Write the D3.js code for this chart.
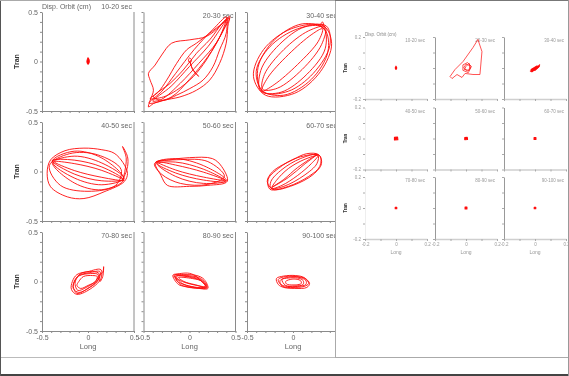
<!DOCTYPE html>
<html>
<head>
<meta charset="utf-8">
<script src="https://cdn.jsdelivr.net/npm/d3@7"></script>
<style>
    body { margin: 0; background: #fff; }
    svg { display: block; font-family: "Liberation Sans", Arial, sans-serif; will-change: transform; }
</style>
</head>
<body>
<svg id="chart" width="569" height="376"></svg>
<script>
/* Displacement orbit panels, tran vs long, 10 s windows */

const PERIODS = ['10-20 sec', '20-30 sec', '30-40 sec', '40-50 sec', '50-60 sec',
    '60-70 sec', '70-80 sec', '80-90 sec', '90-100 sec'];

const BIG_TICKS = [-0.5, -0.4, -0.3, -0.2, -0.1, 0, 0.1, 0.2, 0.3, 0.4, 0.5];
const BIG_LABEL_VALUES = [-0.5, 0, 0.5];
const BIG_LABELS = ['-0.5', '0', '0.5'];
const SMALL_TICKS = [-0.2, -0.1, 0, 0.1, 0.2];
const SMALL_LABEL_VALUES = [-0.2, 0, 0.2];
const SMALL_LABELS = ['-0.2', '0', '0.2'];

// each orbit = list of traced loops, [long, tran] in cm
const orbit10_20 = [
    [[0.0, 0.04], [0.01, 0.02], [0.012, -0.01], [0.0, -0.03], [-0.01, -0.01], [-0.008, 0.02]],
    [[0.005, 0.03], [0.012, 0.0], [0.002, -0.025], [-0.01, 0.0]]
];
const orbit20_30 = [
    [[-0.194, 0.185], [0.004, 0.219], [0.183, 0.253], [0.327, 0.354], [0.435, 0.456], [0.417, 0.354],
     [0.399, 0.185], [0.327, -0.019], [0.219, -0.188], [0.076, -0.29], [-0.104, -0.358], [-0.284, -0.392],
     [-0.392, -0.425], [-0.446, -0.459], [-0.428, -0.392], [-0.392, -0.29], [-0.428, -0.188],
     [-0.446, -0.12], [-0.374, -0.036], [-0.302, 0.066]],
    [[-0.428, -0.375], [-0.284, -0.358], [-0.14, -0.29], [0.04, -0.154], [0.183, 0.015], [0.291, 0.185],
     [0.381, 0.337], [0.435, 0.439], [0.363, 0.388], [0.219, 0.286], [0.076, 0.185], [-0.032, 0.117],
     [-0.14, -0.019], [-0.248, -0.188], [-0.338, -0.307]],
    [[-0.392, -0.358], [-0.212, -0.222], [-0.068, -0.086], [0.076, 0.083], [0.219, 0.219], [0.399, 0.422],
     [0.399, 0.286], [0.327, 0.117], [0.255, -0.053], [0.147, -0.188], [0.004, -0.273], [-0.14, -0.34],
     [-0.284, -0.392]],
    [[-0.40, -0.40], [-0.2, -0.25], [0.0, -0.05], [0.2, 0.15], [0.42, 0.44], [0.3, 0.2], [0.1, -0.02],
     [-0.1, -0.22], [-0.3, -0.38]],
    [[-0.44, -0.42], [-0.3, -0.30], [-0.15, -0.12], [0.05, 0.12], [0.25, 0.32], [0.40, 0.45], [0.33, 0.25],
     [0.2, 0.05], [0.0, -0.18], [-0.2, -0.36]],
    [[0.0, 0.035], [0.02, 0.02], [0.015, -0.005], [-0.005, -0.005], [-0.01, 0.02]],
    [[0.005, 0.0], [0.03, -0.07], [0.1, -0.15], [0.04, -0.09]]
];
const orbit30_40 = [
    [[0.33, 0.36], [0.42, 0.18], [0.3, -0.1], [0.02, -0.32], [-0.30, -0.34], [-0.43, -0.15], [-0.32, 0.12], [-0.02, 0.33]],
    [[0.34, 0.33], [0.38, 0.10], [0.2, -0.18], [-0.10, -0.34], [-0.34, -0.29], [-0.38, -0.06], [-0.2, 0.22], [0.10, 0.38]],
    [[0.36, 0.36], [0.40, 0.16], [0.22, -0.12], [-0.05, -0.30], [-0.32, -0.31], [-0.40, -0.10], [-0.25, 0.15], [0.05, 0.33]],
    [[0.33, 0.34], [0.35, 0.13], [0.15, -0.13], [-0.13, -0.31], [-0.35, -0.30], [-0.35, -0.09], [-0.15, 0.17], [0.13, 0.35]],
    [[0.35, 0.35], [0.31, 0.17], [0.1, -0.08], [-0.17, -0.27], [-0.33, -0.28], [-0.31, -0.13], [-0.1, 0.12], [0.17, 0.31]],
    [[0.32, 0.33], [0.275, 0.204], [0.05, -0.03], [-0.205, -0.234], [-0.34, -0.30], [-0.275, -0.164], [-0.05, 0.07], [0.205, 0.274]],
    [[0.30, 0.36], [0.32, 0.40], [0.34, 0.33]]
];
const orbit40_50 = [
    [[-0.407, 0.117], [-0.25, 0.21], [-0.044, 0.236], [0.15, 0.22], [0.284, 0.185], [0.38, 0.09], [0.429, -0.019],
     [0.393, -0.103], [0.175, -0.205], [-0.044, -0.273], [-0.225, -0.256], [-0.407, -0.154], [-0.444, -0.019]],
    [[0.38, -0.08], [0.43, 0.05], [0.429, 0.151], [0.375, 0.253], [0.415, 0.14], [0.40, 0.0]],
    [[-0.39, 0.10], [-0.15, 0.205], [0.15, 0.136], [0.39, -0.08], [0.15, -0.184], [-0.15, -0.115]],
    [[-0.38, 0.09], [-0.15, 0.155], [0.15, 0.086], [0.39, -0.07], [0.15, -0.134], [-0.15, -0.065]],
    [[-0.39, 0.11], [-0.15, 0.115], [0.15, 0.046], [0.38, -0.08], [0.15, -0.094], [-0.15, -0.025]],
    [[-0.37, 0.10], [-0.15, 0.08], [0.15, 0.011], [0.39, -0.09], [0.15, -0.059], [-0.15, 0.01]],
    [[-0.42, 0.06], [-0.2, 0.18], [0.1, 0.17], [0.36, 0.02], [0.3, -0.14], [0.0, -0.2], [-0.3, -0.14]]
];
const orbit50_60 = [
    [[-0.37, 0.09], [-0.2, 0.12], [0.0, 0.14], [0.25, 0.13], [0.35, 0.05], [0.41, -0.10], [0.2, -0.14],
     [0.0, -0.15], [-0.24, -0.14], [-0.31, -0.04]],
    [[-0.36, 0.09], [-0.15, 0.13], [0.15, 0.06], [0.40, -0.09], [0.15, -0.12], [-0.15, -0.05]],
    [[-0.35, 0.08], [-0.15, 0.095], [0.15, 0.024], [0.40, -0.10], [0.15, -0.086], [-0.15, -0.015]],
    [[-0.36, 0.10], [-0.15, 0.065], [0.15, -0.006], [0.39, -0.09], [0.15, -0.056], [-0.15, 0.015]],
    [[-0.38, 0.08], [-0.1, 0.12], [0.2, 0.1], [0.38, -0.05], [0.2, -0.13], [-0.1, -0.12], [-0.3, -0.03]]
];
const orbit60_70 = [
    [[0.28, 0.17], [0.31, 0.08], [0.22, -0.03], [0.0, -0.14], [-0.22, -0.18], [-0.28, -0.1], [-0.22, 0.0], [0.0, 0.12], [0.15, 0.18]],
    [[0.27, 0.17], [0.26, 0.08], [0.12, -0.04], [-0.1, -0.15], [-0.24, -0.17], [-0.24, -0.1], [-0.12, 0.02], [0.08, 0.13]],
    [[0.27, 0.16], [0.2, 0.08], [0.05, -0.04], [-0.12, -0.14], [-0.23, -0.17], [-0.18, -0.09], [-0.05, 0.03], [0.12, 0.12]],
    [[0.26, 0.17], [0.12, 0.07], [-0.05, -0.06], [-0.23, -0.16], [-0.1, -0.08], [0.05, 0.04]],
    [[0.29, 0.16], [0.29, 0.05], [0.17, -0.05], [-0.05, -0.15], [-0.25, -0.18], [-0.27, -0.08], [-0.16, 0.03], [0.05, 0.14]]
];
const orbit70_80 = [
    [[-0.17, 0.0], [-0.12, 0.07], [0.0, 0.10], [0.14, 0.12], [0.14, 0.03], [0.05, -0.06], [-0.12, -0.13], [-0.18, -0.08]],
    [[-0.15, 0.0], [-0.1, 0.06], [0.02, 0.09], [0.13, 0.10], [0.12, 0.03], [0.03, -0.05], [-0.1, -0.11], [-0.16, -0.07]],
    [[-0.1, 0.0], [-0.05, 0.05], [0.05, 0.06], [0.1, 0.05], [0.08, 0.0], [0.0, -0.04], [-0.08, -0.07], [-0.12, -0.04]],
    [[-0.14, 0.01], [-0.08, 0.08], [0.05, 0.1], [0.12, 0.08], [0.1, 0.0], [0.0, -0.07], [-0.12, -0.12], [-0.16, -0.05]],
    [[-0.13, 0.02], [-0.09, 0.06], [0.03, 0.08], [0.11, 0.07], [0.09, 0.01], [-0.02, -0.06], [-0.11, -0.09], [-0.14, -0.03]],
    [[0.12, 0.06], [0.16, 0.09], [0.17, 0.15], [0.16, 0.05], [0.13, 0.0]]
];
const orbit80_90 = [
    [[-0.18, 0.065], [-0.05, 0.07], [0.08, 0.06], [0.16, 0.02], [0.2, -0.07], [0.1, -0.07], [-0.04, -0.05], [-0.12, -0.03]],
    [[-0.16, 0.06], [-0.03, 0.06], [0.1, 0.04], [0.17, -0.01], [0.19, -0.065], [0.06, -0.06], [-0.06, -0.03], [-0.13, 0.0]],
    [[-0.14, 0.05], [0.0, 0.05], [0.12, 0.02], [0.18, -0.04], [0.15, -0.06], [0.02, -0.05], [-0.08, -0.02]],
    [[-0.17, 0.06], [-0.02, 0.085], [0.06, 0.06], [0.13, 0.0], [0.19, -0.06], [0.08, -0.04], [-0.05, -0.01], [-0.14, 0.03]],
    [[-0.12, 0.04], [0.03, 0.03], [0.14, 0.0], [0.17, -0.05], [0.05, -0.03], [-0.06, 0.0]],
    [[-0.15, 0.055], [0.02, 0.04], [0.12, 0.01], [0.18, -0.055], [0.04, -0.065], [-0.1, -0.03]]
];
const orbit90_100 = [
    [[-0.18, 0.03], [-0.1, 0.055], [0.03, 0.06], [0.12, 0.04], [0.18, -0.02], [0.15, -0.06], [0.02, -0.07], [-0.1, -0.06], [-0.16, -0.03]],
    [[-0.16, 0.02], [-0.08, 0.05], [0.04, 0.05], [0.13, 0.03], [0.17, -0.02], [0.12, -0.05], [0.0, -0.06], [-0.11, -0.05]],
    [[-0.14, 0.01], [-0.07, 0.04], [0.05, 0.045], [0.14, 0.01], [0.14, -0.03], [0.05, -0.05], [-0.06, -0.05], [-0.13, -0.03]],
    [[-0.12, 0.02], [-0.05, 0.035], [0.05, 0.035], [0.11, 0.01], [0.11, -0.03], [0.02, -0.045], [-0.08, -0.04]],
    [[-0.08, 0.0], [0.0, 0.025], [0.08, 0.01], [0.09, -0.02], [0.0, -0.035], [-0.07, -0.025]]
];
const ORBITS = [orbit10_20, orbit20_30, orbit30_40, orbit40_50, orbit50_60,
    orbit60_70, orbit70_80, orbit80_90, orbit90_100];

// second (inset) set, much smaller motion, +/-0.2 cm
const small10_20 = [[[0.0, 0.012], [0.005, 0.0], [0.0, -0.01], [-0.005, 0.0]]];
const small20_30 = [
    [[0.077, 0.184], [0.103, 0.106], [0.09, -0.042], [0.045, -0.042], [-0.006, -0.035], [-0.026, -0.061],
     [-0.058, -0.042], [-0.09, -0.068], [-0.103, -0.055], [-0.071, -0.01], [-0.019, 0.042], [0.045, 0.132]],
    [[0.0, 0.01], [0.02, 0.03], [0.03, 0.0], [0.01, -0.02], [-0.015, 0.0], [0.0, 0.025], [0.025, 0.015],
     [0.02, -0.015], [-0.01, -0.01]],
    [[-0.02, 0.02], [0.01, 0.035], [0.035, 0.01], [0.015, -0.03], [-0.02, -0.015]]
];
const small30_40 = [
    [[-0.03, -0.02], [0.0, 0.0], [0.025, 0.015], [0.03, 0.02], [0.02, 0.005], [0.0, -0.01], [-0.02, -0.025]],
    [[-0.025, -0.01], [0.01, 0.012], [0.028, 0.01], [0.0, -0.015]]
];
const small40_50 = [[[-0.01, 0.008], [0.01, 0.01], [0.012, -0.008], [-0.01, -0.01]]];
const small50_60 = [[[-0.008, 0.006], [0.008, 0.008], [0.01, -0.006], [-0.008, -0.008]]];
const small60_70 = [[[-0.006, 0.006], [0.006, 0.006], [0.006, -0.006], [-0.006, -0.006]]];
const small70_80 = [[[-0.005, 0.005], [0.005, 0.005], [0.005, -0.005], [-0.005, -0.005]]];
const small80_90 = [[[-0.006, 0.006], [0.006, 0.006], [0.006, -0.006], [-0.006, -0.006]]];
const small90_100 = [[[-0.005, 0.005], [0.005, 0.005], [0.005, -0.005], [-0.005, -0.005]]];
const SMALL_ORBITS = [small10_20, small20_30, small30_40, small40_50, small50_60,
    small60_70, small70_80, small80_90, small90_100];

const RED = '#ff0a0a';
const svg = d3.select('#chart');

function drawPlot(o) {
    const x = d3.scaleLinear().domain(o.domain).range([o.x0, o.x0 + o.w]);
    const y = d3.scaleLinear().domain(o.domain).range([o.y0 + o.h, o.y0]);
    const g = svg.append('g');

    // ticks
    const ty = g.append('g').attr('transform', `translate(${o.x0},0)`)
        .call(d3.axisLeft(y).tickValues(o.ticks).tickSize(2).tickSizeOuter(0).tickFormat(''));
    const tx = g.append('g').attr('transform', `translate(0,${o.y0 + o.h})`)
        .call(d3.axisBottom(x).tickValues(o.ticks).tickSize(2).tickSizeOuter(0).tickFormat(''));
    [ty, tx].forEach(a => {
        a.select('.domain').attr('stroke', o.yAxisColor);
        a.selectAll('.tick line').attr('stroke', o.tickColor);
    });
    tx.select('.domain').attr('stroke', o.xAxisColor).attr('stroke-width', o.xAxisWidth);

    if (o.rightLine) {
        g.append('line')
            .attr('x1', o.x0 + o.w).attr('x2', o.x0 + o.w)
            .attr('y1', o.y0).attr('y2', o.y0 + o.h)
            .attr('stroke', o.yAxisColor);
    }

    if (o.showY) {
        g.append('g').attr('transform', `translate(${o.x0 - 2},0)`)
            .call(d3.axisLeft(y).tickValues(o.labelValues).tickSize(0).tickPadding(2)
                .tickFormat((d, i) => o.labels[i]))
            .call(a => a.select('.domain').remove())
            .selectAll('text').attr('font-size', o.fontSize).attr('fill', o.textColor);
        g.append('text')
            .attr('transform', `translate(${o.tranX},${o.y0 + o.h / 2}) rotate(-90)`)
            .attr('text-anchor', 'middle')
            .attr('font-size', o.fontSize).attr('font-weight', 'bold').attr('fill', '#333')
            .text('Tran');
    }
    if (o.showX) {
        g.append('g').attr('transform', `translate(0,${o.y0 + o.h + 2})`)
            .call(d3.axisBottom(x).tickValues(o.labelValues).tickSize(0).tickPadding(2)
                .tickFormat((d, i) => o.labels[i]))
            .call(a => a.select('.domain').remove())
            .selectAll('text').attr('font-size', o.fontSize).attr('fill', o.textColor);
        g.append('text')
            .attr('x', o.x0 + o.w / 2).attr('y', o.y0 + o.h + o.longDy)
            .attr('text-anchor', 'middle')
            .attr('font-size', o.fontSize + 0.5).attr('fill', o.textColor)
            .text('Long');
    }

    g.append('text')
        .attr('x', o.x0 + o.w - 2).attr('y', o.titleY)
        .attr('text-anchor', 'end')
        .attr('font-size', o.fontSize).attr('fill', o.textColor)
        .text(o.title);

    const line = d3.line()
        .x(d => x(d[0]))
        .y(d => y(d[1]))
        .curve(o.curve);

    g.append('g').selectAll('path')
        .data(o.loops)
        .join('path')
        .attr('d', line)
        .attr('fill', o.fill)
        .attr('stroke', RED)
        .attr('stroke-width', o.lineWidth)
        .attr('stroke-linejoin', 'round');
}

svg.append('rect').attr('width', 569).attr('height', 376).attr('fill', '#fff');

// main set, 3x3
const bigCols = [42, 143.5, 247];
const bigRows = [12, 122, 232];
PERIODS.forEach((p, i) => {
    const r = Math.floor(i / 3), c = i % 3;
    drawPlot({
        x0: bigCols[c], y0: bigRows[r], w: 92, h: 99,
        domain: [-0.5, 0.5], ticks: BIG_TICKS,
        labelValues: BIG_LABEL_VALUES, labels: BIG_LABELS,
        showY: c === 0, showX: r === 2, rightLine: true,
        yAxisColor: '#8a8a8a', xAxisColor: '#8a8a8a', xAxisWidth: 1, tickColor: '#8a8a8a',
        textColor: '#666', fontSize: 7, longDy: 18, tranX: 19,
        title: p, titleY: (i === 0) ? 9 : bigRows[r] + 6,
        loops: ORBITS[i], curve: d3.curveCatmullRomClosed.alpha(0.5),
        lineWidth: 0.9, fill: i === 0 ? RED : 'none'
    });
});
svg.append('text').attr('x', 42).attr('y', 9)
    .attr('font-size', 7).attr('fill', '#666').text('Disp. Orbit (cm)');

// inset panel on the right
svg.append('rect')
    .attr('x', 335.5).attr('y', 0.5).attr('width', 233).attr('height', 357)
    .attr('fill', '#fff').attr('stroke', '#aaa');
svg.append('line').attr('x1', 335).attr('x2', 569).attr('y1', 0.5).attr('y2', 0.5)
    .attr('stroke', '#777');

const smallCols = [365, 435, 504];
const smallRows = [37, 107.5, 177];
PERIODS.forEach((p, i) => {
    const r = Math.floor(i / 3), c = i % 3;
    drawPlot({
        x0: smallCols[c], y0: smallRows[r], w: 62, h: 62,
        domain: [-0.2, 0.2], ticks: SMALL_TICKS,
        labelValues: SMALL_LABEL_VALUES, labels: SMALL_LABELS,
        showY: c === 0, showX: r === 2, rightLine: false,
        yAxisColor: c === 0 ? '#eee' : '#999', xAxisColor: '#cfcfcf', xAxisWidth: 1.6, tickColor: '#aaa',
        textColor: '#999', fontSize: 4.5, longDy: 15, tranX: 347,
        title: p, titleY: smallRows[r] + 5,
        loops: SMALL_ORBITS[i], curve: d3.curveLinearClosed,
        lineWidth: i === 1 ? 0.7 : 1.1, fill: i === 1 ? 'none' : RED
    });
});
svg.append('text').attr('x', 365).attr('y', 36)
    .attr('font-size', 4.5).attr('fill', '#888').text('Disp. Orbit (cm)');

// outer borders
svg.append('line').attr('x1', 0).attr('x2', 335).attr('y1', 357.5).attr('y2', 357.5).attr('stroke', '#bbb');
svg.append('line').attr('x1', 0).attr('x2', 569).attr('y1', 375).attr('y2', 375).attr('stroke', '#444').attr('stroke-width', 2);
svg.append('line').attr('x1', 0.5).attr('x2', 0.5).attr('y1', 0).attr('y2', 376).attr('stroke', '#555');
svg.append('line').attr('x1', 0).attr('x2', 335).attr('y1', 0.5).attr('y2', 0.5).attr('stroke', '#aaa');
svg.append('line').attr('x1', 568.5).attr('x2', 568.5).attr('y1', 0).attr('y2', 376).attr('stroke', '#999');
</script>
</body>
</html>
